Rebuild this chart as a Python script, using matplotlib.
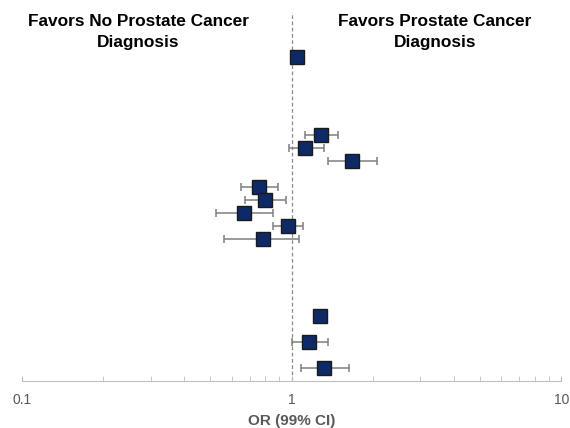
import matplotlib.pyplot as plt

# odds ratios with 99% CI, rows counted from the top
rows = [0, 6, 7, 8, 10, 11, 12, 13, 14, 20, 22, 24]
odds = [1.05, 1.29, 1.12, 1.68, 0.755, 0.794, 0.664, 0.966, 0.781, 1.27, 1.156, 1.314]
ci_low = [1.05, 1.124, 0.975, 1.36, 0.647, 0.670, 0.523, 0.850, 0.560, 1.227, 1.0, 1.08]
ci_high = [1.05, 1.484, 1.314, 2.08, 0.888, 0.950, 0.850, 1.098, 1.061, 1.348, 1.359, 1.626]

err_lo = [o - l for o, l in zip(odds, ci_low)]
err_hi = [h - o for o, h in zip(odds, ci_high)]

fig = plt.figure(figsize=(5.7, 4.28), dpi=100)
ax = fig.add_axes([0.0386, 0.11, 0.946, 0.862])

ax.axvline(1, color="#8c8c8c", linestyle=(0, (3, 2)), linewidth=0.9, zorder=1)
ax.errorbar(odds, rows, xerr=[err_lo, err_hi], fmt="none", ecolor="#7f7f7f",
            elinewidth=1.1, capsize=3, capthick=1.1, zorder=2)
ax.plot(odds, rows, "s", markersize=10, markerfacecolor="#0d2a66",
        markeredgecolor="#1a1a1a", markeredgewidth=1.0, linestyle="none", zorder=3)

ax.set_xscale("log")
ax.set_xlim(0.1, 10)
ax.set_ylim(25, -3.5)
ax.set_yticks([])
for s in ["top", "right", "left"]:
    ax.spines[s].set_visible(False)
ax.spines["bottom"].set_color("#bfbfbf")
ax.tick_params(axis="x", which="both", direction="in", length=3.5, color="#bfbfbf",
               labelcolor="#595959", labelsize=10, pad=9)
ax.set_xticks([0.1, 1, 10])
ax.set_xticklabels(["0.1", "1", "10"])
ax.set_xlabel("OR (99% CI)", fontsize=11, fontweight="bold", color="#595959",
              labelpad=5)

for lab in ax.get_xticklabels() + [ax.xaxis.label]:
    lab.set_family("Liberation Sans")

fig.text(138 / 570, 1 - 32 / 428, "Favors No Prostate Cancer\nDiagnosis",
         ha="center", va="center", fontsize=12.4, fontweight="bold",
         family="Liberation Sans", linespacing=1.45)
fig.text(435 / 570, 1 - 32 / 428, "Favors Prostate Cancer\nDiagnosis",
         ha="center", va="center", fontsize=12.4, fontweight="bold",
         family="Liberation Sans", linespacing=1.45)

fig.savefig("out.png", dpi=100)
